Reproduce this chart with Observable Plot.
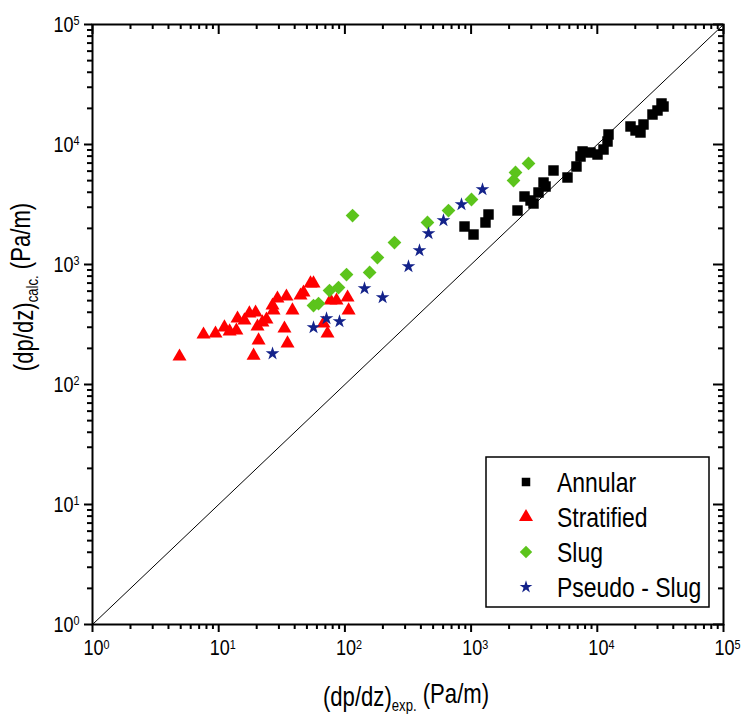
<!DOCTYPE html>
<html>
<head>
<meta charset="utf-8">
<script src="https://cdn.jsdelivr.net/npm/d3@7"></script>
<script src="https://cdn.jsdelivr.net/npm/@observablehq/plot@0.6"></script>
<style>
  html, body { margin: 0; padding: 0; background: #fff; }
  #chart svg { display: block; }
</style>
</head>
<body>
<div id="chart"></div>
<script>
// ---- data ----
const annularX = [887, 1045, 1300, 1374, 2332, 2650, 2958, 3122, 3421, 3750, 3890, 4497, 5805, 6839, 7362, 7638, 8834, 10040, 11200, 12050, 12270, 18330, 20090, 21990, 23230, 27370, 29990, 32270, 33480];
const annularY = [2073, 1778, 2239, 2610, 2818, 3687, 3415, 3224, 3981, 4820, 4467, 6072, 5309, 6556, 7943, 8750, 8577, 8254, 9085, 10590, 12120, 14130, 13090, 12590, 14680, 17780, 19200, 21970, 20730];

const stratX = [4.89, 7.58, 9.43, 11.1, 12.2, 14.1, 13.8, 17.5, 19.6, 20.3, 20.7, 18.9, 23.9, 26.7, 29.2, 27.2, 34.4, 33.2, 35.1, 38.4, 47.0, 53.4, 56.4, 76.9, 85.8, 105, 107, 72.8, 67.7, 44.5, 22.2, 16.0];
const stratY = [171, 261, 266, 299, 277, 355, 282, 391, 398, 304, 233, 174, 348, 455, 521, 414, 541, 293, 220, 414, 584, 695, 695, 501, 501, 531, 414, 266, 322, 552, 329, 342];

const slugX = [56.4, 61.8, 75.5, 89.0, 103, 115, 157, 181, 247, 451, 662, 1007, 2168, 2248, 2851];
const slugY = [455, 473, 607, 643, 825, 2560, 858, 1143, 1525, 2239, 2818, 3481, 5012, 5843, 6950];

const pseudoX = [26.7, 56.4, 71.5, 90.6, 143, 199, 319, 390, 460, 604, 839, 1231];
const pseudoY = [181, 299, 355, 335, 631, 531, 962, 1308, 1813, 2326, 3162, 4217];

const seriesNames = ["Annular", "Stratified", "Slug", "Pseudo - Slug"];
const seriesColors = ["#000000", "#ff0000", "#5cc41c", "#13228a"];
const seriesSymbols = ["square", "triangle", "diamond2", "star"];
const seriesR = [5.9, 5.2, 6.2, 4.3];

const majorTicks = [1, 10, 100, 1000, 10000, 100000];
const minorTicks = [];
for (let k = 0; k < 5; k++) for (let m = 2; m <= 9; m++) minorTicks.push(m * Math.pow(10, k));

const diagonal = [{v: 1}, {v: 100000}];

const xTitle = ["(dp/dz)", "exp.", " (Pa/m)"];
const yTitle = ["(dp/dz)", "calc.", " (Pa/m)"];

// ---- build tables ----
function table(xs, ys, name) { return xs.map((x, i) => ({x, y: ys[i], name})); }
const sets = [
  table(annularX, annularY, seriesNames[0]),
  table(stratX, stratY, seriesNames[1]),
  table(slugX, slugY, seriesNames[2]),
  table(pseudoX, pseudoY, seriesNames[3])
];

const FONT = '"Liberation Sans", Arial, sans-serif';
const NARROW = 0.82;
const expFmt = d => "10^" + Math.round(Math.log10(d));

// plot-area size (for tick-rule insets)
const W = 741 - 92 - 18;   // 631
const H = 726 - 24 - 102;  // 600

// tick marks drawn as short rules on the frame
const xTicks = (ticks, insetTop, insetBottom) =>
  Plot.ruleX(ticks, {x: d => d, insetTop, insetBottom, stroke: "#000", strokeWidth: 2});
const yTicks = (ticks, insetLeft, insetRight) =>
  Plot.ruleY(ticks, {y: d => d, insetLeft, insetRight, stroke: "#000", strokeWidth: 2});

const chart = Plot.plot({
  width: 741,
  height: 726,
  marginLeft: 92,
  marginRight: 18,
  marginTop: 24,
  marginBottom: 102,
  style: {fontFamily: FONT, background: "#fff"},
  x: {type: "log", domain: [1, 100000], label: null},
  y: {type: "log", domain: [1, 100000], label: null},
  marks: [
    Plot.line(diagonal, {x: "v", y: "v", stroke: "#000", strokeWidth: 1}),
    ...sets.map((s, i) => Plot.dot(s, {x: "x", y: "y", symbol: () => seriesSymbols[i], fill: seriesColors[i], r: seriesR[i], stroke: "none"})),
    Plot.frame({stroke: "#000", strokeWidth: 2}),
    // tick labels
    Plot.axisX(majorTicks, {anchor: "bottom", tickSize: 0, tickPadding: 15, tickFormat: expFmt, fontSize: 22}),
    Plot.axisY(majorTicks, {anchor: "left", tickSize: 0, tickPadding: 13, tickFormat: expFmt, fontSize: 22}),
    // bottom ticks (outward)
    xTicks(majorTicks, H, -8),
    xTicks(minorTicks, H, -5),
    // top ticks (inward)
    xTicks(majorTicks, 0, H - 10),
    xTicks(minorTicks, 0, H - 5),
    // left ticks (outward)
    yTicks(majorTicks, -8, W),
    yTicks(minorTicks, -5, W),
    // right ticks (inward)
    yTicks(majorTicks, W - 10, 0),
    yTicks(minorTicks, W - 5, 0)
  ]
});

document.getElementById("chart").appendChild(chart);

const svg = d3.select(chart);

// superscript exponents in tick labels, narrow lettering
svg.selectAll('g[aria-label="x-axis tick label"] text, g[aria-label="y-axis tick label"] text').each(function () {
  const t = this.textContent;
  if (!t.includes("^")) return;
  const [b, e] = t.split("^");
  const sel = d3.select(this);
  const isX = this.parentNode.getAttribute("aria-label").startsWith("x");
  sel.text(null);
  sel.append("tspan").text(b);
  sel.append("tspan").attr("dy", "-0.5em").attr("font-size", "0.6em").text(e);
  const tr = sel.attr("transform") || "";
  sel.attr("transform", tr + ` scale(${NARROW},1)` + (isX ? " translate(5,0)" : ""));
});

// axis titles with subscripts
function title(g, parts) {
  const t = g.append("text").attr("text-anchor", "middle").attr("font-family", FONT).attr("font-size", 27).attr("fill", "#000")
    .attr("transform", `scale(${NARROW},1)`);
  t.append("tspan").text(parts[0]);
  t.append("tspan").attr("dy", "0.3em").attr("font-size", 16).text(parts[1]);
  t.append("tspan").attr("dy", "-0.3em").text(parts[2]);
  return t;
}
title(svg.append("g").attr("transform", "translate(406,706)"), xTitle);
title(svg.append("g").attr("transform", "translate(33,287) rotate(-90)"), yTitle);

// legend
const lg = svg.append("g").attr("transform", "translate(486,457)");
lg.append("rect").attr("width", 223).attr("height", 150).attr("fill", "#fff").attr("stroke", "#000").attr("stroke-width", 1.5);
const legendSym = {square: d3.symbolSquare, triangle: d3.symbolTriangle, diamond2: d3.symbolDiamond2, star: d3.symbolStar};
const legendR = [4.8, 5.2, 5.6, 4.0];
seriesNames.forEach((name, i) => {
  const y = 25 + i * 35;
  lg.append("path")
    .attr("transform", `translate(40,${y})`)
    .attr("d", d3.symbol(legendSym[seriesSymbols[i]], Math.PI * legendR[i] * legendR[i])())
    .attr("fill", seriesColors[i]);
  lg.append("text")
    .attr("transform", `translate(71,${y + 10}) scale(${NARROW},1)`)
    .attr("text-anchor", "start")
    .attr("font-family", FONT).attr("font-size", 28).attr("fill", "#000").text(name);
});
</script>
</body>
</html>
